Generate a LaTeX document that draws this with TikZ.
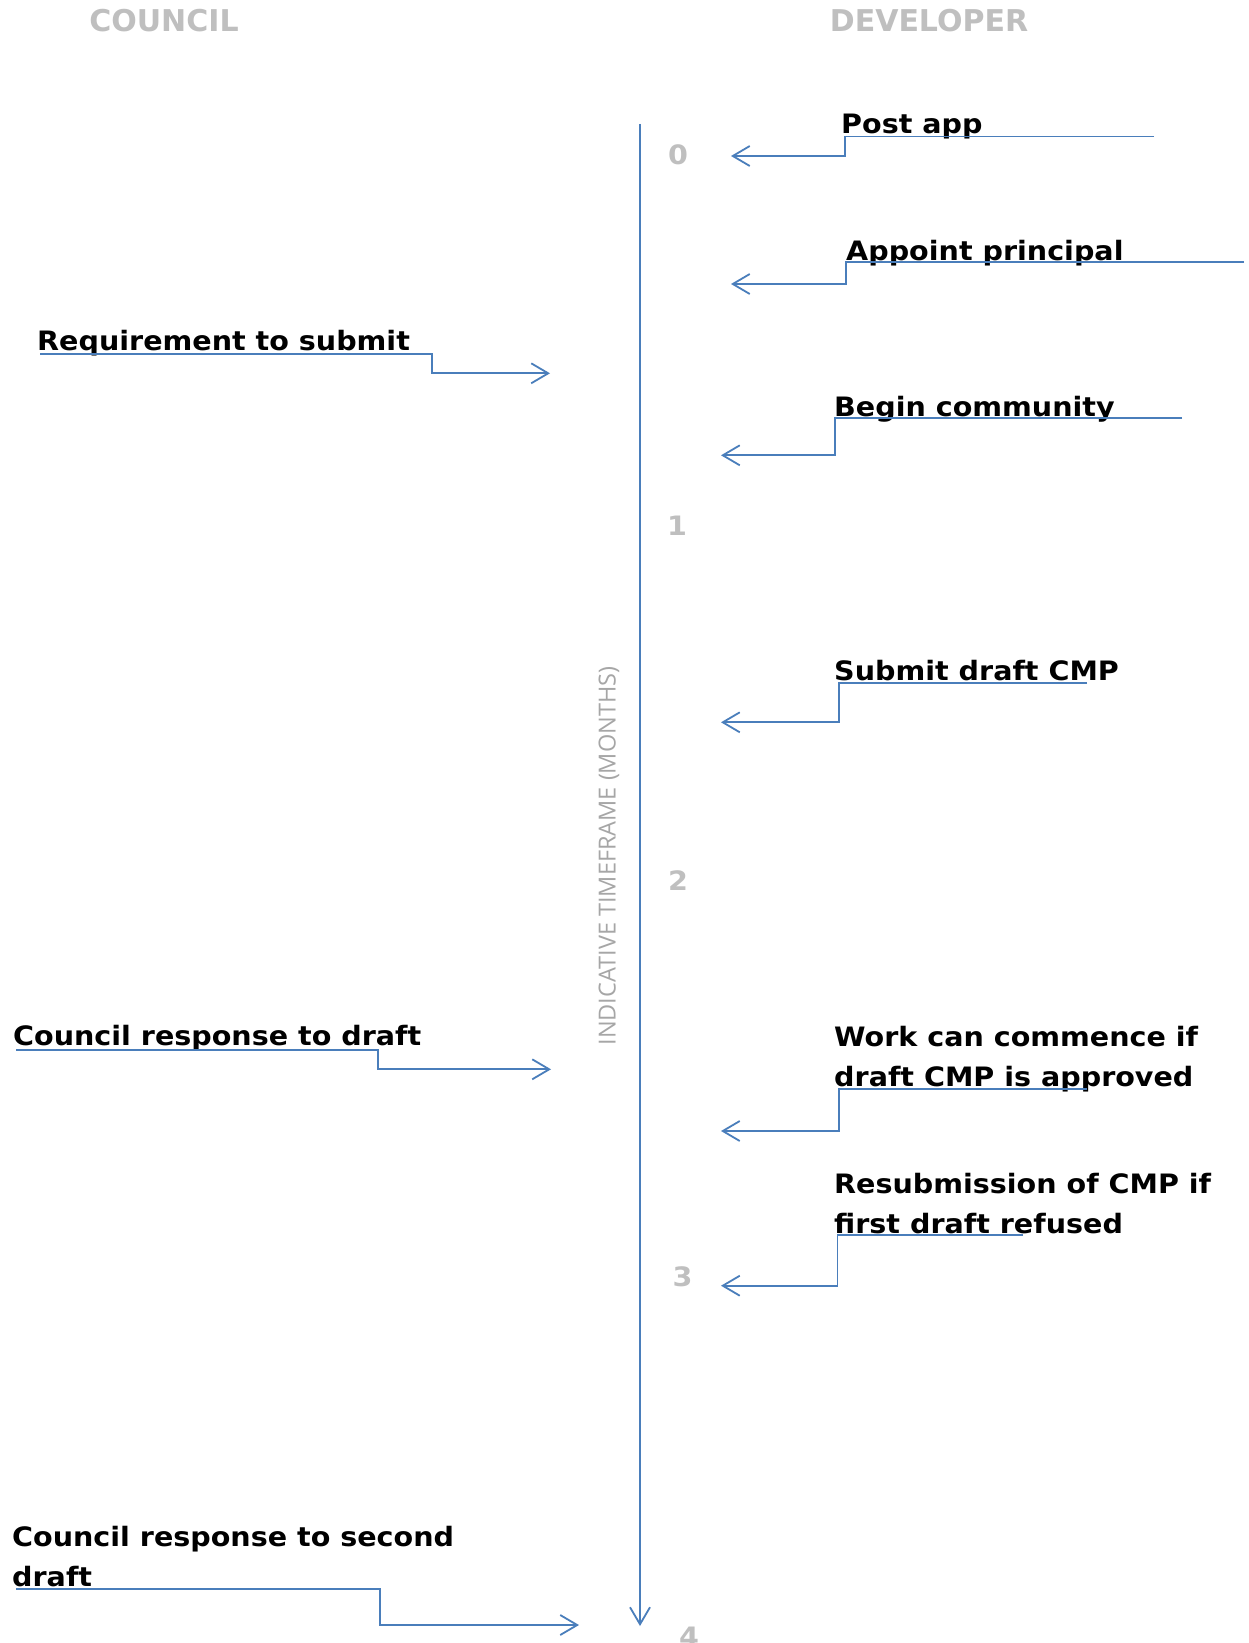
\documentclass[tikz,border=0pt]{standalone}
\usepackage{fontspec}
\usetikzlibrary{arrows.meta}
\setmainfont{DejaVu Sans}
\newfontfamily\labfont{DejaVu Sans}[FakeStretch=1.07]
\newfontfamily\headfont{DejaVu Sans}
\newfontfamily\axisfont{Open Sans}
\definecolor{lineblue}{RGB}{74,126,187}
\definecolor{lgray}{RGB}{191,191,191}
\definecolor{agray}{RGB}{166,166,166}
\begin{document}
\begin{tikzpicture}[x=1pt,y=-1pt,
  lab/.style={font={\labfont\bfseries\fontsize{26.7}{40}\selectfont}, inner sep=0pt, anchor=base west, align=left},
  num/.style={font={\labfont\bfseries\fontsize{26.7}{30}\selectfont}, text=lgray, inner sep=0pt},
  head/.style={font={\headfont\bfseries\fontsize{30}{34}\selectfont}, text=lgray, inner sep=0pt},
  axislab/.style={font={\axisfont\fontsize{23.5}{28}\selectfont}, text=agray, inner sep=0pt, rotate=90},
  conn/.style={draw=lineblue, line width=1.8pt, -{Straight Barb[length=17pt,width=20pt]}}]
\fill[white] (0,0) rectangle (1248,1643);
\useasboundingbox (0,0) rectangle (1248,1643);

% headers
\node[head] (council) at (164,21) {COUNCIL};
\node[head] (developer) at (929,21) {DEVELOPER};

% axis
\coordinate (axtop) at (640,124);
\coordinate (axend) at (640,1626);
\draw[conn] (axtop) -- (axend);
\node[axislab] (axlab) at (609,856) {INDICATIVE TIMEFRAME (MONTHS)};

% month numbers
\node[num] (n0) at (678,155) {0};
\node[num] (n1) at (677,526) {1};
\node[num] (n2) at (678,881) {2};
\node[num] (n3) at (682.5,1277) {3};
\node[num] (n4) at (689,1637) {4};

% developer items
\node[lab] (t1) at (841,133) {Post app};
\coordinate (s1) at (1154,136.5);
\coordinate (b1) at (845,156);
\coordinate (e1) at (731,156);
\draw[conn] (s1) -| (b1) -- (e1);

\node[lab] (t2) at (846,260) {Appoint principal};
\coordinate (s2) at (1244,262.3);
\coordinate (b2) at (846,284);
\coordinate (e2) at (731,284);
\draw[conn] (s2) -| (b2) -- (e2);

\node[lab] (t3) at (834,416) {Begin community};
\coordinate (s3) at (1182,418.3);
\coordinate (b3) at (835,455.3);
\coordinate (e3) at (721,455.3);
\draw[conn] (s3) -| (b3) -- (e3);

\node[lab] (t4) at (834,680.7) {Submit draft CMP};
\coordinate (s4) at (1087,682.7);
\coordinate (b4) at (839,722.3);
\coordinate (e4) at (721,722.3);
\draw[conn] (s4) -| (b4) -- (e4);

\node[lab] (t5) at (834,1086.5) {Work can commence if\\draft CMP is approved};
\coordinate (s5) at (1087,1089.3);
\coordinate (b5) at (839,1131);
\coordinate (e5) at (721,1131);
\draw[conn] (s5) -| (b5) -- (e5);

\node[lab] (t6) at (834,1233.3) {Resubmission of CMP if\\first draft refused};
\coordinate (s6) at (1023,1235);
\coordinate (b6) at (837.5,1285.7);
\coordinate (e6) at (721,1285.7);
\draw[conn] (s6) -| (b6) -- (e6);

% council items
\node[lab] (t7) at (37,350) {Requirement to submit};
\coordinate (s7) at (40,354);
\coordinate (b7) at (432,373.3);
\coordinate (e7) at (550,373.3);
\draw[conn] (s7) -| (b7) -- (e7);

\node[lab] (t8) at (13,1045.7) {Council response to draft};
\coordinate (s8) at (16,1050);
\coordinate (b8) at (378,1069.3);
\coordinate (e8) at (551,1069.3);
\draw[conn] (s8) -| (b8) -- (e8);

\node[lab] (t9) at (12,1586) {Council response to second\\draft};
\coordinate (s9) at (16,1589.3);
\coordinate (b9) at (380,1625);
\coordinate (e9) at (579,1625);
\draw[conn] (s9) -| (b9) -- (e9);
\end{tikzpicture}
\end{document}
